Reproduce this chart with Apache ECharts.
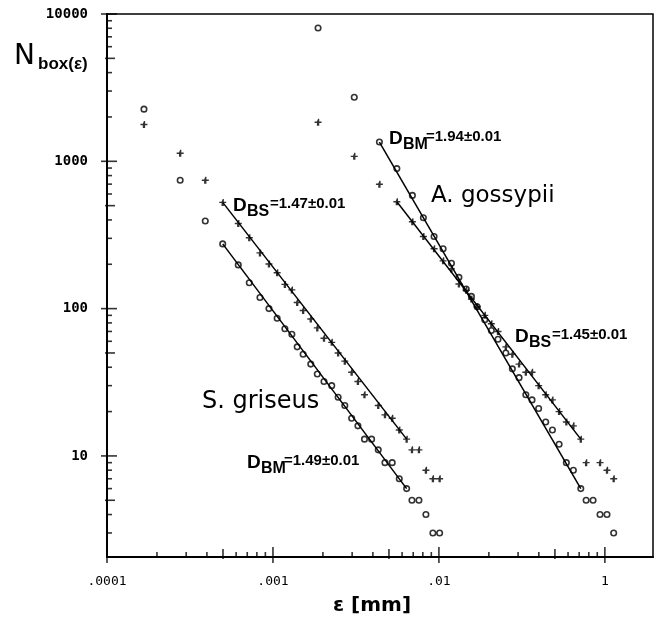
<!DOCTYPE html>
<html>
<head>
<meta charset="utf-8">
<script src="https://cdn.jsdelivr.net/npm/echarts@6/dist/echarts.min.js"></script>
<style>
  html, body { margin: 0; padding: 0; background: #fff; }
  #chart { width: 664px; height: 620px; }
</style>
</head>
<body>
<div id="chart"></div>
<script>
// box size eps [mm] and box counts, S. griseus
const epsGriseus = [1.67e-4, 2.76e-4, 3.91e-4, 4.98e-4, 6.18e-4, 7.20e-4, 8.35e-4, 9.46e-4, 1.06e-3, 1.18e-3, 1.30e-3,
  1.40e-3, 1.52e-3, 1.69e-3, 1.85e-3, 2.03e-3, 2.26e-3, 2.47e-3, 2.71e-3, 2.98e-3, 3.25e-3, 3.56e-3, 3.93e-3,
  4.31e-3, 4.73e-3, 5.23e-3, 5.77e-3, 6.39e-3, 6.88e-3, 7.58e-3, 8.35e-3, 9.2e-3, 1.01e-2];
const bmGriseus = [2259, 743, 393, 275, 198, 150, 119, 100, 86, 73, 67, 55, 49, 42, 36, 32, 30, 25, 22, 18, 16,
  13, 13, 11, 9, 9, 7, 6, 5, 5, 4, 3, 3];
const bsGriseus = [1778, 1133, 743, 526, 378, 303, 239, 201, 175, 146, 134, 110, 97, 85, 74, 63, 59, 50, 44, 37, 32,
  26, null, 22, 19, 18, 15, 13, 11, 11, 8, 7, 7];

// A. gossypii
const epsGossypii = [1.87e-3, 3.09e-3, 4.38e-3, 5.58e-3, 6.92e-3, 8.06e-3, 9.35e-3, 1.06e-2, 1.19e-2, 1.32e-2, 1.46e-2,
  1.57e-2, 1.70e-2, 1.89e-2, 2.07e-2, 2.27e-2, 2.53e-2, 2.77e-2, 3.04e-2, 3.34e-2, 3.64e-2, 3.99e-2, 4.40e-2,
  4.83e-2, 5.30e-2, 5.86e-2, 6.46e-2, 7.16e-2, 7.71e-2, 8.49e-2, 9.35e-2, 0.103, 0.113];
const bmGossypii = [8030, 2723, 1352, 892, 587, 414, 309, 255, 203, 163, 136, 121, 103, 84, 71, 62, 50, 39, 34, 26, 24,
  21, 17, 15, 12, 9, 8, 6, 5, 5, 4, 4, 3];
const bsGossypii = [1841, 1081, 698, 532, 389, 309, 255, 211, 186, 147, 133, 116, 103, 90, 79, 70, 55, 49, 42, 37, 37,
  30, 26, 24, 20, 17, 16, 13, 9, null, 9, 8, 7];

// fitted lines (end points)
const fitGriseusBS = [[4.98e-4, 526], [6.39e-3, 13]];
const fitGriseusBM = [[4.98e-4, 275], [6.39e-3, 6]];
const fitGossypiiBM = [[4.38e-3, 1352], [7.16e-2, 6]];
const fitGossypiiBS = [[5.58e-3, 532], [7.16e-2, 13]];

// axes
const xTickValues = [1e-4, 1e-3, 1e-2, 1e-1];
const xTickLabels = ['.0001', '.001', '.01', '1'];
const yTickValues = [10, 100, 1000, 10000];
const yTickLabels = ['10', '100', '1000', '10000'];
const X_MIN = 1e-4, X_MAX = 0.195;
const Y_MIN = 2.06, Y_MAX = 10000;

function pickLabel(v, values, labels) {
  for (let i = 0; i < values.length; i++) {
    if (Math.abs(Math.log10(v) - Math.log10(values[i])) < 1e-6) return labels[i];
  }
  return '';
}

// log tick positions by mantissa group
function logTicks(lo, hi, mantissas) {
  const out = [];
  for (let d = Math.floor(Math.log10(lo)); d <= Math.ceil(Math.log10(hi)); d++) {
    mantissas.forEach(k => {
      const v = k * Math.pow(10, d);
      if (v >= lo * 0.999 && v <= hi * 1.001) out.push(v);
    });
  }
  return out;
}
// [mantissas, length inside, length outside]
const tickKinds = [[[1], 10, 6], [[5], 8, 2], [[2, 3, 4, 6, 7, 8, 9], 5, 0]];

function xTickSeries(kind) {
  const len = kind[1] + kind[2];
  return {
    type: 'scatter', silent: true, clip: false, z: 6,
    data: logTicks(X_MIN, X_MAX, kind[0]).map(v => [v, Y_MIN]),
    symbol: 'rect', symbolSize: [1.6, len], symbolOffset: [0, (kind[2] - kind[1]) / 2],
    itemStyle: { color: '#000' }
  };
}
function yTickSeries(kind) {
  const len = kind[1] + kind[2];
  return {
    type: 'scatter', silent: true, clip: false, z: 6,
    data: logTicks(Y_MIN, Y_MAX, kind[0]).map(v => [X_MIN, v]),
    symbol: 'rect', symbolSize: [len, 1.6], symbolOffset: [(kind[1] - kind[2]) / 2, 0],
    itemStyle: { color: '#000' }
  };
}

const pts = (xs, ys) => xs.map((x, i) => [x, ys[i]]).filter(p => p[1] != null);

const plusSymbol = 'path://M4,0h2v4h4v2h-4v4h-4v-4h-4v-2h4z';
const ring = { color: 'rgba(0,0,0,0)', borderColor: '#000', borderWidth: 1.6 };

function fitLine(data) {
  return {
    type: 'line', data: data, symbol: 'none', silent: true, z: 2,
    lineStyle: { color: '#000', width: 1.5 }
  };
}
function bmSeries(xs, ys) {
  return { type: 'scatter', data: pts(xs, ys), symbol: 'circle', symbolSize: 5.5, itemStyle: ring, z: 3 };
}
function bsSeries(xs, ys) {
  return { type: 'scatter', data: pts(xs, ys), symbol: plusSymbol, symbolSize: 7, itemStyle: { color: '#000' }, z: 3 };
}

const chart = echarts.init(document.getElementById('chart'));
const boldNum = "'Liberation Sans', Arial, sans-serif";
const sans = "'DejaVu Sans', sans-serif";

function dLabel(x, y, sub, value) {
  return [
    { type: 'text', left: x, top: y, style: { text: 'D', font: "bold 19px " + boldNum, fill: '#000' } },
    { type: 'text', left: x + 14, top: y + 8, style: { text: sub, font: "bold 16px " + boldNum, fill: '#000' } },
    { type: 'text', left: x + 37, top: y, style: { text: value, font: "bold 15px " + boldNum, fill: '#000' } }
  ];
}

chart.setOption({
  animation: false,
  backgroundColor: '#fff',
  grid: { left: 107, right: 11, top: 14, bottom: 63, show: true, borderColor: '#000', borderWidth: 1.5 },
  xAxis: {
    type: 'log', logBase: 10, min: X_MIN, max: X_MAX,
    axisLine: { show: true, lineStyle: { color: '#000', width: 2 } },
    axisTick: { show: false },
    splitLine: { show: false },
    axisLabel: {
      margin: 18, color: '#000', fontFamily: "'DejaVu Sans Mono', monospace", fontSize: 13,
      showMaxLabel: false,
      formatter: v => pickLabel(v, xTickValues, xTickLabels)
    }
  },
  yAxis: {
    type: 'log', logBase: 10, min: Y_MIN, max: Y_MAX,
    axisLine: { show: true, lineStyle: { color: '#000', width: 2 } },
    axisTick: { show: false },
    splitLine: { show: false },
    axisLabel: {
      margin: 19, color: '#000', fontFamily: "'DejaVu Sans Mono', monospace", fontSize: 14, fontWeight: 'bold',
      showMinLabel: false,
      formatter: v => pickLabel(v, yTickValues, yTickLabels)
    }
  },
  series: [
    ...tickKinds.map(xTickSeries),
    ...tickKinds.map(yTickSeries),
    fitLine(fitGriseusBS),
    fitLine(fitGriseusBM),
    fitLine(fitGossypiiBM),
    fitLine(fitGossypiiBS),
    bmSeries(epsGriseus, bmGriseus),
    bsSeries(epsGriseus, bsGriseus),
    bmSeries(epsGossypii, bmGossypii),
    bsSeries(epsGossypii, bsGossypii)
  ],
  graphic: [
    // y axis title
    { type: 'text', left: 14, top: 43, style: { text: 'N', font: "28px " + sans, fill: '#000' } },
    { type: 'text', left: 38, top: 56, style: { text: 'box(ε)', font: "bold 17px " + boldNum, fill: '#000' } },
    // x axis title
    { type: 'text', left: 333, top: 596, style: { text: 'ε [mm]', font: "bold 20px " + sans, fill: '#000' } },
    // species names
    { type: 'text', left: 431, top: 185, style: { text: 'A. gossypii', font: "23px " + sans, fill: '#000' } },
    { type: 'text', left: 202, top: 390, style: { text: 'S. griseus', font: "24px " + sans, fill: '#000' } },
    ...dLabel(233, 196, 'BS', '=1.47±0.01'),
    ...dLabel(247, 453, 'BM', '=1.49±0.01'),
    ...dLabel(389, 129, 'BM', '=1.94±0.01'),
    ...dLabel(515, 327, 'BS', '=1.45±0.01')
  ]
});
</script>
</body>
</html>
